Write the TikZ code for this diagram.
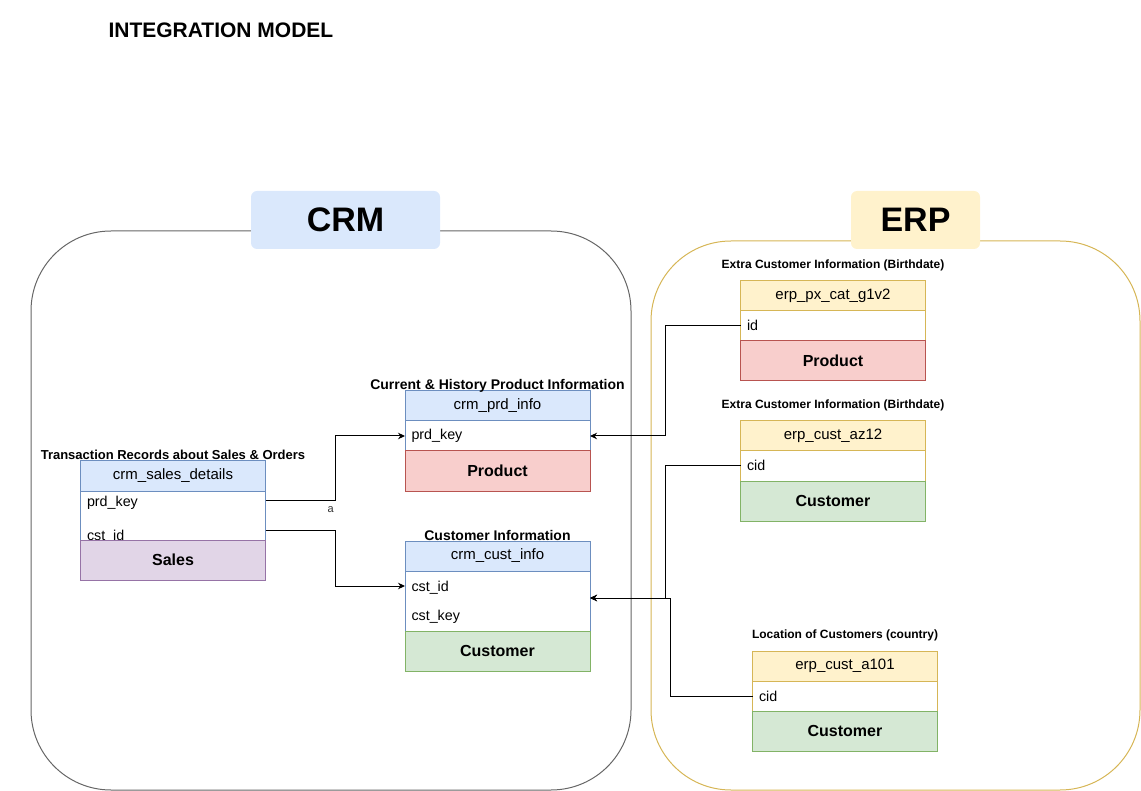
\documentclass[tikz,border=0pt]{standalone}
\usepackage{fontspec}
\setmainfont{Liberation Sans}
\usepackage{tikz}
\usetikzlibrary{positioning, arrows.meta}

\definecolor{crmfill}{HTML}{DAE8FC}
\definecolor{crmline}{HTML}{6C8EBF}
\definecolor{erpfill}{HTML}{FFF2CC}
\definecolor{erpline}{HTML}{D6B656}
\definecolor{prodfill}{HTML}{F8CECC}
\definecolor{prodline}{HTML}{B85450}
\definecolor{custfill}{HTML}{D5E8D4}
\definecolor{custline}{HTML}{82B366}
\definecolor{salesfill}{HTML}{E1D5E7}
\definecolor{salesline}{HTML}{9673A6}
\definecolor{framegray}{HTML}{666666}

\tikzstyle{tblhead} = [rectangle, draw, minimum width=185pt, minimum height=30pt,
    inner sep=0pt, outer sep=0pt, font=\fontsize{15}{17}\selectfont]
\tikzstyle{tblbody} = [rectangle, draw, fill=white, minimum width=185pt, inner sep=0pt, outer sep=0pt]
\tikzstyle{field} = [anchor=base west, inner sep=0pt, font=\fontsize{14.3}{16}\selectfont]
\tikzstyle{entity} = [rectangle, draw, minimum width=185pt, minimum height=40pt,
    inner sep=0pt, outer sep=0pt, font=\bfseries\fontsize{16}{18}\selectfont]
\tikzstyle{caption} = [anchor=base, inner sep=0pt, font=\bfseries\fontsize{14}{16}\selectfont]
\tikzstyle{erpcaption} = [anchor=base, inner sep=0pt, font=\bfseries\fontsize{12}{14}\selectfont]
\tikzstyle{system} = [rectangle, rounded corners=80pt, inner sep=0pt, outer sep=0pt]
\tikzstyle{systag} = [rectangle, rounded corners=6pt, minimum height=58pt,
    font=\bfseries\fontsize{34}{40}\selectfont]
\tikzstyle{link} = [draw, -{Stealth[length=7pt, width=6.5pt]}]

\begin{document}
\begin{tikzpicture}[x=1pt, y=-1pt, line width=1pt]
      \useasboundingbox (0,0) rectangle (1141,791);
      \node [anchor=base west, inner sep=0pt, font=\bfseries\fontsize{21}{24}\selectfont] (title) at (108,37.5) {INTEGRATION MODEL};
      % Systems
      \node [system, draw=framegray, minimum width=600pt, minimum height=559pt] (crm) at (331,510.5) {};
      \node [system, draw=erpline, minimum width=489pt, minimum height=549pt] (erp) at (895.5,515.5) {};
      \node [systag, fill=crmfill, minimum width=189pt] (crmtag) at (345.5,220) {CRM};
      \node [systag, fill=erpfill, minimum width=129pt] (erptag) at (915.5,220) {ERP};
      % CRM tables
      \node [tblhead, fill=crmfill, draw=crmline] (saleshead) at (173,476) {crm\_sales\_details};
      \node [tblbody, draw=crmline, minimum height=49pt, below=0pt of saleshead] (salesbody) {};
      \node [field] (salesprd) at ([xshift=6pt, yshift=-15pt]salesbody.north west) {prd\_key};
      \node [field] (salescst) at ([xshift=6pt, yshift=-49pt]salesbody.north west) {cst\_id};
      \node [entity, fill=salesfill, draw=salesline, below=0pt of salesbody] (sales) {Sales};
      \node [caption, font=\bfseries\fontsize{13}{16}\selectfont] (salescap) at ([yshift=1pt]saleshead.north) {Transaction Records about Sales \& Orders};

      \node [tblhead, fill=crmfill, draw=crmline] (prdhead) at (497.5,406) {crm\_prd\_info};
      \node [tblbody, draw=crmline, minimum height=30pt, below=0pt of prdhead] (prdbody) {};
      \node [field] (prdkey) at ([xshift=6pt, yshift=-19pt]prdbody.north west) {prd\_key};
      \node [entity, fill=prodfill, draw=prodline, below=0pt of prdbody] (product) {Product};
      \node [caption] (prdcap) at ([yshift=1pt]prdhead.north) {Current \& History Product Information};

      \node [tblhead, fill=crmfill, draw=crmline] (custhead) at (497.5,556) {crm\_cust\_info};
      \node [tblbody, draw=crmline, minimum height=60pt, below=0pt of custhead] (custbody) {};
      \node [field] (custid) at ([xshift=6pt, yshift=-20pt]custbody.north west) {cst\_id};
      \node [field] (custkey) at ([xshift=6pt, yshift=-49pt]custbody.north west) {cst\_key};
      \node [entity, fill=custfill, draw=custline, below=0pt of custbody] (customer) {Customer};
      \node [caption] (custcap) at ([yshift=1pt]custhead.north) {Customer Information};
      % ERP tables
      \node [tblhead, fill=erpfill, draw=erpline] (pxhead) at (833,296) {erp\_px\_cat\_g1v2};
      \node [tblbody, draw=erpline, minimum height=30pt, below=0pt of pxhead] (pxbody) {};
      \node [field] (pxid) at ([xshift=6pt, yshift=-20pt]pxbody.north west) {id};
      \node [entity, fill=prodfill, draw=prodline, below=0pt of pxbody] (pxproduct) {Product};
      \node [erpcaption] (pxcap) at ([yshift=12.5pt]pxhead.north) {Extra Customer Information (Birthdate)};

      \node [tblhead, fill=erpfill, draw=erpline] (azhead) at (833,436) {erp\_cust\_az12};
      \node [tblbody, draw=erpline, minimum height=30pt, below=0pt of azhead] (azbody) {};
      \node [field] (azcid) at ([xshift=6pt, yshift=-20pt]azbody.north west) {cid};
      \node [entity, fill=custfill, draw=custline, below=0pt of azbody] (azcustomer) {Customer};
      \node [erpcaption] (azcap) at ([yshift=12.5pt]azhead.north) {Extra Customer Information (Birthdate)};

      \node [tblhead, fill=erpfill, draw=erpline] (lochead) at (845,666) {erp\_cust\_a101};
      \node [tblbody, draw=erpline, minimum height=30pt, below=0pt of lochead] (locbody) {};
      \node [field] (loccid) at ([xshift=6pt, yshift=-20pt]locbody.north west) {cid};
      \node [entity, fill=custfill, draw=custline, below=0pt of locbody] (loccustomer) {Customer};
      \node [erpcaption] (loccap) at ([yshift=12.5pt]lochead.north) {Location of Customers (country)};
      % Draw edges
      \path [link] ([yshift=-9pt]salesbody.north east) -- ++(70,0)
          node [pos=0.93, below=6pt, inner sep=0pt, font=\fontsize{11}{12}\selectfont, text=black!80] (alabel) {a}
          |- (prdbody.west);
      \path [link] ([yshift=-39pt]salesbody.north east) -- ++(70,0) |- ([yshift=-15pt]custbody.north west);
      \path [link] (pxbody.west) -- ++(-75,0) |- (prdbody.east);
      \path [link] (azbody.west) -- ++(-75,0) |- ([yshift=-27pt]custbody.north east);
      \path [link] (locbody.west) -- ++(-82,0) |- ([yshift=-27pt]custbody.north east);
    \end{tikzpicture}
\end{document}
